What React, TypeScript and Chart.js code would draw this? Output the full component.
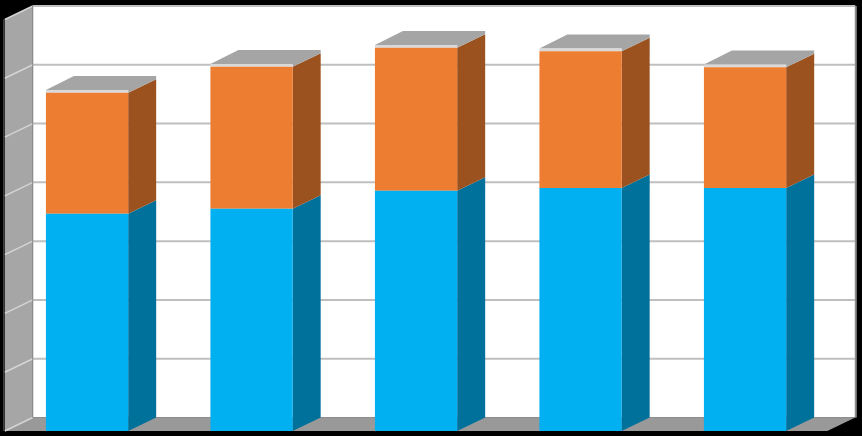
import { useEffect, useRef } from "react"
import { Chart, registerables } from "chart.js"

Chart.register(...registerables)

const categories = ["1", "2", "3", "4", "5"]
const blueValues = [3.696, 3.781, 4.087, 4.133, 4.133]
const orangeValues = [2.058, 2.416, 2.433, 2.326, 2.053]
const axisMax = 7

const depthX = 28
const depthY = 13.5

// fake 3D: side faces, top caps and walls around the flat stacked bars
const box3d = {
  id: "box3d",
  beforeDatasetsDraw(chart: any) {
    const { ctx, chartArea, scales } = chart
    const { left, right, top, bottom } = chartArea
    const y = scales.y

    const poly = (pts: number[][], color: string) => {
      ctx.fillStyle = color
      ctx.beginPath()
      pts.forEach((p, i) => (i ? ctx.lineTo(p[0], p[1]) : ctx.moveTo(p[0], p[1])))
      ctx.closePath()
      ctx.fill()
    }
    const line = (x1: number, y1: number, x2: number, y2: number, color: string, w: number) => {
      ctx.strokeStyle = color
      ctx.lineWidth = w
      ctx.beginPath()
      ctx.moveTo(x1, y1)
      ctx.lineTo(x2, y2)
      ctx.stroke()
    }

    ctx.save()

    // back wall
    poly(
      [
        [left + depthX, top - depthY],
        [right + depthX, top - depthY],
        [right + depthX, bottom - depthY],
        [left + depthX, bottom - depthY],
      ],
      "#ffffff"
    )
    // left wall
    poly(
      [
        [left, top],
        [left + depthX, top - depthY],
        [left + depthX, bottom - depthY],
        [left, bottom],
      ],
      "#a6a6a6"
    )
    // floor
    poly(
      [
        [left + depthX, bottom - depthY],
        [right + depthX, bottom - depthY],
        [right, bottom],
        [left, bottom],
      ],
      "#999999"
    )

    y.ticks.forEach((tick: any) => {
      const py = y.getPixelForValue(tick.value)
      if (tick.value > 0) {
        line(left + depthX, py - depthY, right + depthX, py - depthY, "#bfbfbf", 2)
      }
      line(left, py, left + depthX, py - depthY, "#d4d4d4", 1.5)
    })
    line(left + depthX, top - depthY, left + depthX, bottom - depthY, "#8c8c8c", 1)
    line(right + depthX + 0.5, top - depthY, right + depthX + 0.5, bottom - depthY, "#8c8c8c", 2)
    line(left - 1, top, left - 1, bottom, "#5a5a5a", 1)

    // side faces
    chart.data.datasets.forEach((ds: any, i: number) => {
      chart.getDatasetMeta(i).data.forEach((bar: any) => {
        const xr = bar.x + bar.width / 2
        poly(
          [
            [xr, bar.y],
            [xr + depthX, bar.y - depthY],
            [xr + depthX, bar.base - depthY],
            [xr, bar.base],
          ],
          ds.sideColor
        )
      })
    })

    // top cap of the upper stack
    const last = chart.data.datasets.length - 1
    chart.getDatasetMeta(last).data.forEach((bar: any) => {
      const xl = bar.x - bar.width / 2
      const xr = bar.x + bar.width / 2
      const capY = bar.y - 2.8
      poly(
        [
          [xl, capY],
          [xl + depthX, capY - 14],
          [xr + depthX, capY - 14],
          [xr + depthX, bar.y - depthY],
          [xr, bar.y],
          [xr, capY],
        ],
        "#a5a5a5"
      )
      poly(
        [
          [xl, capY],
          [xr, capY],
          [xr, bar.y],
          [xl, bar.y],
        ],
        "#d9d9d9"
      )
    })

    ctx.restore()
  },
}

const App = () => {
  const chartRef = useRef<HTMLCanvasElement>(null)

  useEffect(() => {
    if (!chartRef.current) return
    const chart = new Chart(chartRef.current, {
      type: "bar",
      plugins: [box3d],
      data: {
        labels: categories,
        datasets: [
          { label: "Blue", data: blueValues, backgroundColor: "#00b0f0", sideColor: "#00719b" } as any,
          { label: "Orange", data: orangeValues, backgroundColor: "#ed7d31", sideColor: "#9b521f" } as any,
        ],
      },
      options: {
        responsive: false,
        animation: false,
        layout: { padding: { left: 4.8, right: 34.7, top: 19.5, bottom: 5 } },
        datasets: { bar: { categoryPercentage: 1, barPercentage: 0.5 } },
        plugins: { legend: { display: false }, tooltip: { enabled: false } },
        scales: {
          x: { stacked: true, display: false },
          y: { stacked: true, display: false, min: 0, max: axisMax, ticks: { stepSize: 1 } },
        },
      },
    })
    return () => chart.destroy()
  }, [])

  return (
    <div style={{ position: "fixed", left: 0, top: 0, width: 862, height: 436, background: "#000" }}>
      <canvas ref={chartRef} width={862} height={436} style={{ display: "block" }} />
    </div>
  )
}

export default App
